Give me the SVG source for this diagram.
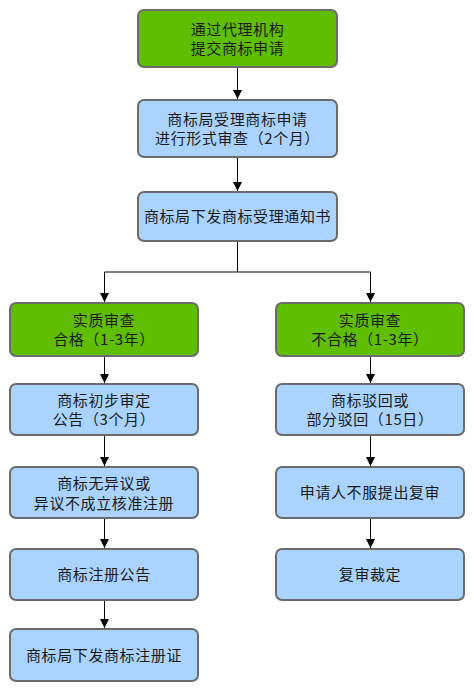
<svg xmlns="http://www.w3.org/2000/svg" width="474" height="690" viewBox="0 0 474 690">
<style>
.g{fill:#5fbe00;stroke:#6b6b6b;stroke-width:2}
.b{fill:#aad4ff;stroke:#6b6b6b;stroke-width:2}
text{font-family:"Noto Sans CJK SC","Microsoft YaHei",sans-serif;font-size:15px;letter-spacing:0.6px;fill:#1a1a1a;text-anchor:middle}
.c{fill:none;stroke:#000;stroke-width:1}
</style>
<defs>
<marker id="ah" markerUnits="userSpaceOnUse" markerWidth="9" markerHeight="9" refX="9" refY="4.5" orient="auto">
<path d="M0,0 L9,4.5 L0,9 z" fill="#000"/>
</marker>
</defs>
<rect width="474" height="690" fill="#fff"/>
<g id="connectors">
<path class="c" d="M237.5,68 V99" marker-end="url(#ah)"/>
<path class="c" d="M237.5,158 V191" marker-end="url(#ah)"/>
<path class="c" d="M237.5,242 V272 H104.5 V302" marker-end="url(#ah)"/>
<path class="c" d="M237.5,272 H370.5 V302" marker-end="url(#ah)"/>
<path class="c" d="M104.5,357 V383" marker-end="url(#ah)"/>
<path class="c" d="M104.5,436 V466" marker-end="url(#ah)"/>
<path class="c" d="M104.5,519 V548" marker-end="url(#ah)"/>
<path class="c" d="M104.5,601 V628" marker-end="url(#ah)"/>
<path class="c" d="M370.5,357 V383" marker-end="url(#ah)"/>
<path class="c" d="M370.5,436 V466" marker-end="url(#ah)"/>
<path class="c" d="M370.5,519 V548" marker-end="url(#ah)"/>
</g>
<g id="n1"><rect class="g" x="138" y="10" width="199" height="57" rx="6"/><text x="237.5" y="34.5">通过代理机构</text><text x="237.5" y="53.5">提交商标申请</text></g>
<g id="n2"><rect class="b" x="138" y="100" width="199" height="57" rx="6"/><text x="237.5" y="124.5">商标局受理商标申请</text><text x="237.5" y="144">进行形式审查（2个月）</text></g>
<g id="n3"><rect class="b" x="138" y="192" width="199" height="49" rx="6"/><text x="237.5" y="222">商标局下发商标受理通知书</text></g>
<g id="n4"><rect class="g" x="10" y="303" width="188" height="53" rx="6"/><text x="104" y="325.5">实质审查</text><text x="104" y="344.5">合格（1-3年）</text></g>
<g id="n5"><rect class="g" x="276" y="303" width="188" height="53" rx="6"/><text x="370" y="325.5">实质审查</text><text x="370" y="344.5">不合格（1-3年）</text></g>
<g id="n6"><rect class="b" x="10" y="384" width="188" height="51" rx="6"/><text x="104" y="405.5">商标初步审定</text><text x="104" y="425">公告（3个月）</text></g>
<g id="n7"><rect class="b" x="276" y="384" width="188" height="51" rx="6"/><text x="370" y="405.5">商标驳回或</text><text x="370" y="425">部分驳回（15日）</text></g>
<g id="n8"><rect class="b" x="10" y="467" width="188" height="51" rx="6"/><text x="104" y="489">商标无异议或</text><text x="104" y="508.5">异议不成立核准注册</text></g>
<g id="n9"><rect class="b" x="276" y="467" width="188" height="51" rx="6"/><text x="370" y="498">申请人不服提出复审</text></g>
<g id="n10"><rect class="b" x="10" y="549" width="188" height="51" rx="6"/><text x="104" y="580">商标注册公告</text></g>
<g id="n11"><rect class="b" x="276" y="549" width="188" height="51" rx="6"/><text x="370" y="580">复审裁定</text></g>
<g id="n12"><rect class="b" x="10" y="629" width="188" height="52" rx="6"/><text x="104" y="660.5">商标局下发商标注册证</text></g>
</svg>
